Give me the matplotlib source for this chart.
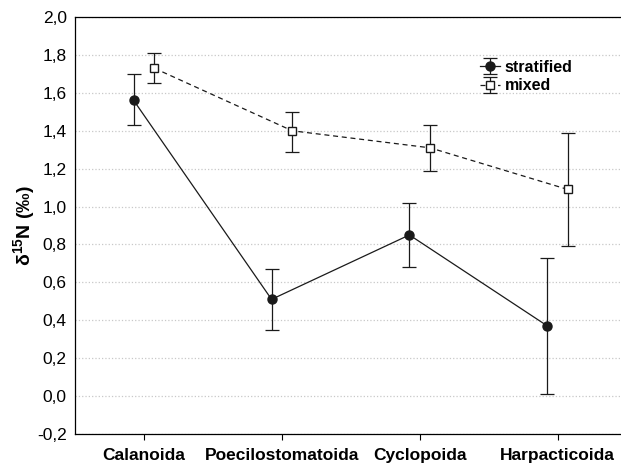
import numpy as np
import matplotlib
matplotlib.use("Agg")
import matplotlib.pyplot as plt

plt.rcParams['font.family'] = ['Liberation Sans', 'DejaVu Sans']
plt.rcParams['mathtext.fontset'] = 'custom'
plt.rcParams['mathtext.bf'] = 'Liberation Sans:bold'
plt.rcParams['mathtext.rm'] = 'Liberation Sans'

# --- Data ---
groups = ['Calanoida', 'Poecilostomatoida', 'Cyclopoida', 'Harpacticoida']
strat_mean = [1.56, 0.51, 0.85, 0.37]
strat_low = [1.43, 0.35, 0.68, 0.01]
strat_high = [1.70, 0.67, 1.02, 0.73]
mixed_mean = [1.73, 1.40, 1.31, 1.09]
mixed_low = [1.65, 1.29, 1.19, 0.79]
mixed_high = [1.81, 1.50, 1.43, 1.39]
yticks = [-0.2, 0.0, 0.2, 0.4, 0.6, 0.8, 1.0, 1.2, 1.4, 1.6, 1.8, 2.0]

x = np.arange(len(groups))
s_m = np.array(strat_mean)
m_m = np.array(mixed_mean)
s_err = [s_m - np.array(strat_low), np.array(strat_high) - s_m]
m_err = [m_m - np.array(mixed_low), np.array(mixed_high) - m_m]

fig = plt.figure(figsize=(6.21, 4.63), dpi=100)
ax = fig.add_axes([0.121, 0.063, 0.879, 0.9])

col = '#1a1a1a'
ax.errorbar(x - 0.075, s_m, yerr=s_err, fmt='o-', color=col, lw=0.9,
            elinewidth=0.9, capsize=5, capthick=0.9, ms=6.5,
            mfc=col, mec=col, label='stratified', zorder=3)
ax.errorbar(x + 0.075, m_m, yerr=m_err, fmt='s--', color=col, lw=0.9,
            elinewidth=0.9, capsize=5, capthick=0.9, ms=6,
            mfc='white', mec=col, label='mixed', dashes=(4, 3), zorder=3)

ax.set_xlim(-0.5, 3.46)
ax.set_ylim(-0.2, 2.0)
ax.set_yticks(yticks)
ax.set_yticklabels([f'{v:.1f}'.replace('.', ',') for v in yticks], fontsize=12.5)
ax.set_xticks(x)
ax.set_xticklabels(groups, fontsize=12.5, fontweight='bold')
ax.tick_params(axis='y', length=0, pad=6)
ax.tick_params(axis='x', length=4, width=0.8, direction='out', pad=6)

ax.grid(axis='y', color='#c8c8c8', linestyle=':', linewidth=0.9)
ax.set_axisbelow(True)
ax.spines['right'].set_visible(False)
for s in ['left', 'bottom', 'top']:
    ax.spines[s].set_linewidth(0.9)

ax.set_ylabel(r'$\mathbf{\delta^{15}N}$ (‰)', fontsize=14, fontweight='bold', labelpad=0)

ax.legend(loc='upper left', bbox_to_anchor=(0.725, 0.92), frameon=False,
          prop={'weight': 'bold', 'size': 11.5}, handlelength=1.2,
          handletextpad=0.3, labelspacing=0.2, borderpad=0.1)

fig.savefig('out.png', dpi=100)
